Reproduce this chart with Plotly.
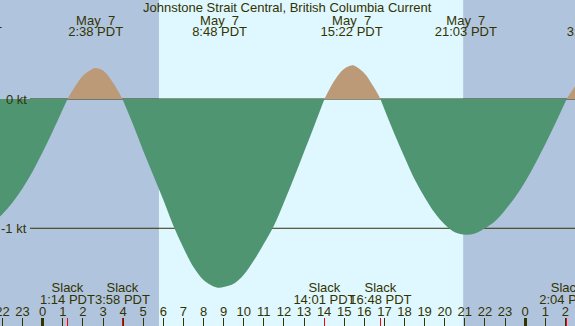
import plotly.graph_objects as go

# ---- data ----
hours = [-2.5, -2.0, -1.5, -1.0, -0.5, 0.0, 0.5, 1.0, 1.233, 1.5, 2.0, 2.5, 2.633, 3.0, 3.5, 3.967,
         4.5, 5.0, 5.5, 6.0, 6.5, 7.0, 7.5, 8.0, 8.5, 8.8, 9.0, 9.5, 10.0, 10.5, 11.0, 11.5, 12.0,
         12.5, 13.0, 13.5, 14.017, 14.5, 15.0, 15.367, 15.5, 16.0, 16.5, 16.8, 17.0, 17.5, 18.0,
         18.5, 19.0, 19.5, 20.0, 20.5, 21.05, 21.5, 22.0, 22.5, 23.0, 23.5, 24.0, 24.5, 25.0,
         25.5, 26.067, 26.5, 27.0]
knots = [-0.96, -0.89, -0.80, -0.69, -0.56, -0.41, -0.25, -0.08, 0.0, 0.07, 0.18, 0.235, 0.24, 0.22, 0.125, 0.0,
         -0.20, -0.40, -0.59, -0.78, -0.98, -1.15, -1.30, -1.40, -1.45, -1.46, -1.455, -1.43, -1.36, -1.25, -1.12, -0.98, -0.80,
         -0.61, -0.41, -0.21, 0.0, 0.14, 0.235, 0.26, 0.257, 0.20, 0.085, 0.0, -0.08, -0.27, -0.45,
         -0.62, -0.76, -0.88, -0.97, -1.03, -1.05, -1.04, -1.00, -0.945, -0.86, -0.76, -0.64, -0.50, -0.35,
         -0.19, 0.0, 0.10, 0.18]

slack_hours = [1.233, 3.967, 14.017, 16.8, 26.067]
slack_times = ["1:14 PDT", "3:58 PDT", "14:01 PDT", "16:48 PDT", "2:04 PDT"]

extreme_hours = [-3.567, 2.633, 8.8, 15.367, 21.05, 27.43]
extreme_dates = ["May\u00a0 6", "May\u00a0 7", "May\u00a0 7", "May\u00a0 7", "May\u00a0 7", "May\u00a0 8"]
extreme_times = ["20:26 PDT", "2:38 PDT", "8:48 PDT", "15:22 PDT", "21:03 PDT", "3:26 PDT"]

tick_hours = list(range(-2, 27))
tick_labels = [str(h % 24) for h in tick_hours]
midnight_hours = [0, 24]

sunrise, sunset = 5.783, 20.917
levels = [0, -1]
level_labels = ["0 kt", "-1 kt"]
title = "Johnstone Strait Central, British Columbia Current"

# ---- style ----
W, H = 575, 326
NIGHT = "#b0c4de"
DAY = "#dff7ff"
GREEN = "#509572"
TAN = "#bc9977"
INK = "#333300"
FONT = "Liberation Sans"
FS = 13
x_range = [-2.124, 26.48]
y_range = [-1.756, 0.766]

fig = go.Figure()

# lobes split at slack points
lobes, cur = [], []
for h, v in zip(hours, knots):
    cur.append((h, v))
    if v == 0 and len(cur) > 1:
        lobes.append(cur)
        cur = [(h, v)]
lobes.append(cur)
for lobe in lobes:
    xs = [p[0] for p in lobe]
    ys = [p[1] for p in lobe]
    neg = min(ys) < 0
    fig.add_trace(go.Scatter(x=xs, y=ys, mode="lines", line=dict(width=0, shape="spline"),
                             fill="tozeroy", fillcolor=GREEN if neg else TAN,
                             hoverinfo="skip", showlegend=False))

tf = dict(family=FONT, size=FS, color=INK)
# text labels on a pixel-row axis (y2)
def text_row(xs, texts, row):
    fig.add_trace(go.Scatter(x=xs, y=[row] * len(xs), yaxis="y2", mode="text", text=texts,
                             textposition="middle center", textfont=tf, cliponaxis=True,
                             hoverinfo="skip", showlegend=False))

text_row(extreme_hours, extreme_dates, 21.5)
text_row(extreme_hours, extreme_times, 33.2)
text_row(slack_hours, ["Slack"] * len(slack_hours), 288.8)
text_row(slack_hours, slack_times, 300.8)
text_row(tick_hours, tick_labels, 313.2)

# dummy traces to attach the extra tick axes
fig.add_trace(go.Scatter(x=slack_hours, y=[None] * len(slack_hours), xaxis="x2", showlegend=False, hoverinfo="skip"))
fig.add_trace(go.Scatter(x=midnight_hours, y=[None] * 2, xaxis="x3", showlegend=False, hoverinfo="skip"))

# day band
fig.add_shape(type="rect", xref="x", yref="paper", x0=sunrise, x1=sunset, y0=0, y1=1,
              fillcolor=DAY, line_width=0, layer="below")
# level lines + labels
for lv, lab in zip(levels, level_labels):
    fig.add_shape(type="line", xref="paper", yref="y", x0=30 / W, x1=1, y0=lv, y1=lv,
                  line=dict(color=INK, width=1), layer="below")
    fig.add_annotation(x=28 / W, xref="paper", y=lv, yref="y", text=lab, showarrow=False,
                       xanchor="right", yanchor="middle", font=tf, borderpad=0)

fig.add_annotation(x=0.5, xref="paper", y=1 - 7.8 / H, yref="paper", text=title, showarrow=False,
                   xanchor="center", yanchor="middle", font=tf, borderpad=0)

axis_common = dict(range=x_range, showgrid=False, zeroline=False, showline=False,
                   showticklabels=False, ticks="inside", ticklen=8)
fig.update_layout(
    width=W, height=H, margin=dict(l=0, r=0, t=0, b=0),
    paper_bgcolor=NIGHT, plot_bgcolor=NIGHT,
    xaxis=dict(**axis_common, tickmode="array", tickvals=tick_hours, tickcolor=INK, tickwidth=1),
    xaxis2=dict(**axis_common, overlaying="x", anchor="y", tickmode="array", tickvals=slack_hours,
                tickcolor="#ff0000", tickwidth=1),
    xaxis3=dict(**axis_common, overlaying="x", anchor="y", tickmode="array", tickvals=midnight_hours,
                tickcolor=INK, tickwidth=3),
    yaxis=dict(range=y_range, visible=False, fixedrange=True),
    yaxis2=dict(range=[H, 0], overlaying="y", visible=False, fixedrange=True),
    showlegend=False,
)

fig.write_html("out.html", config={"displayModeBar": False},
               post_script="document.body.style.margin='0';document.body.style.overflow='hidden';")
